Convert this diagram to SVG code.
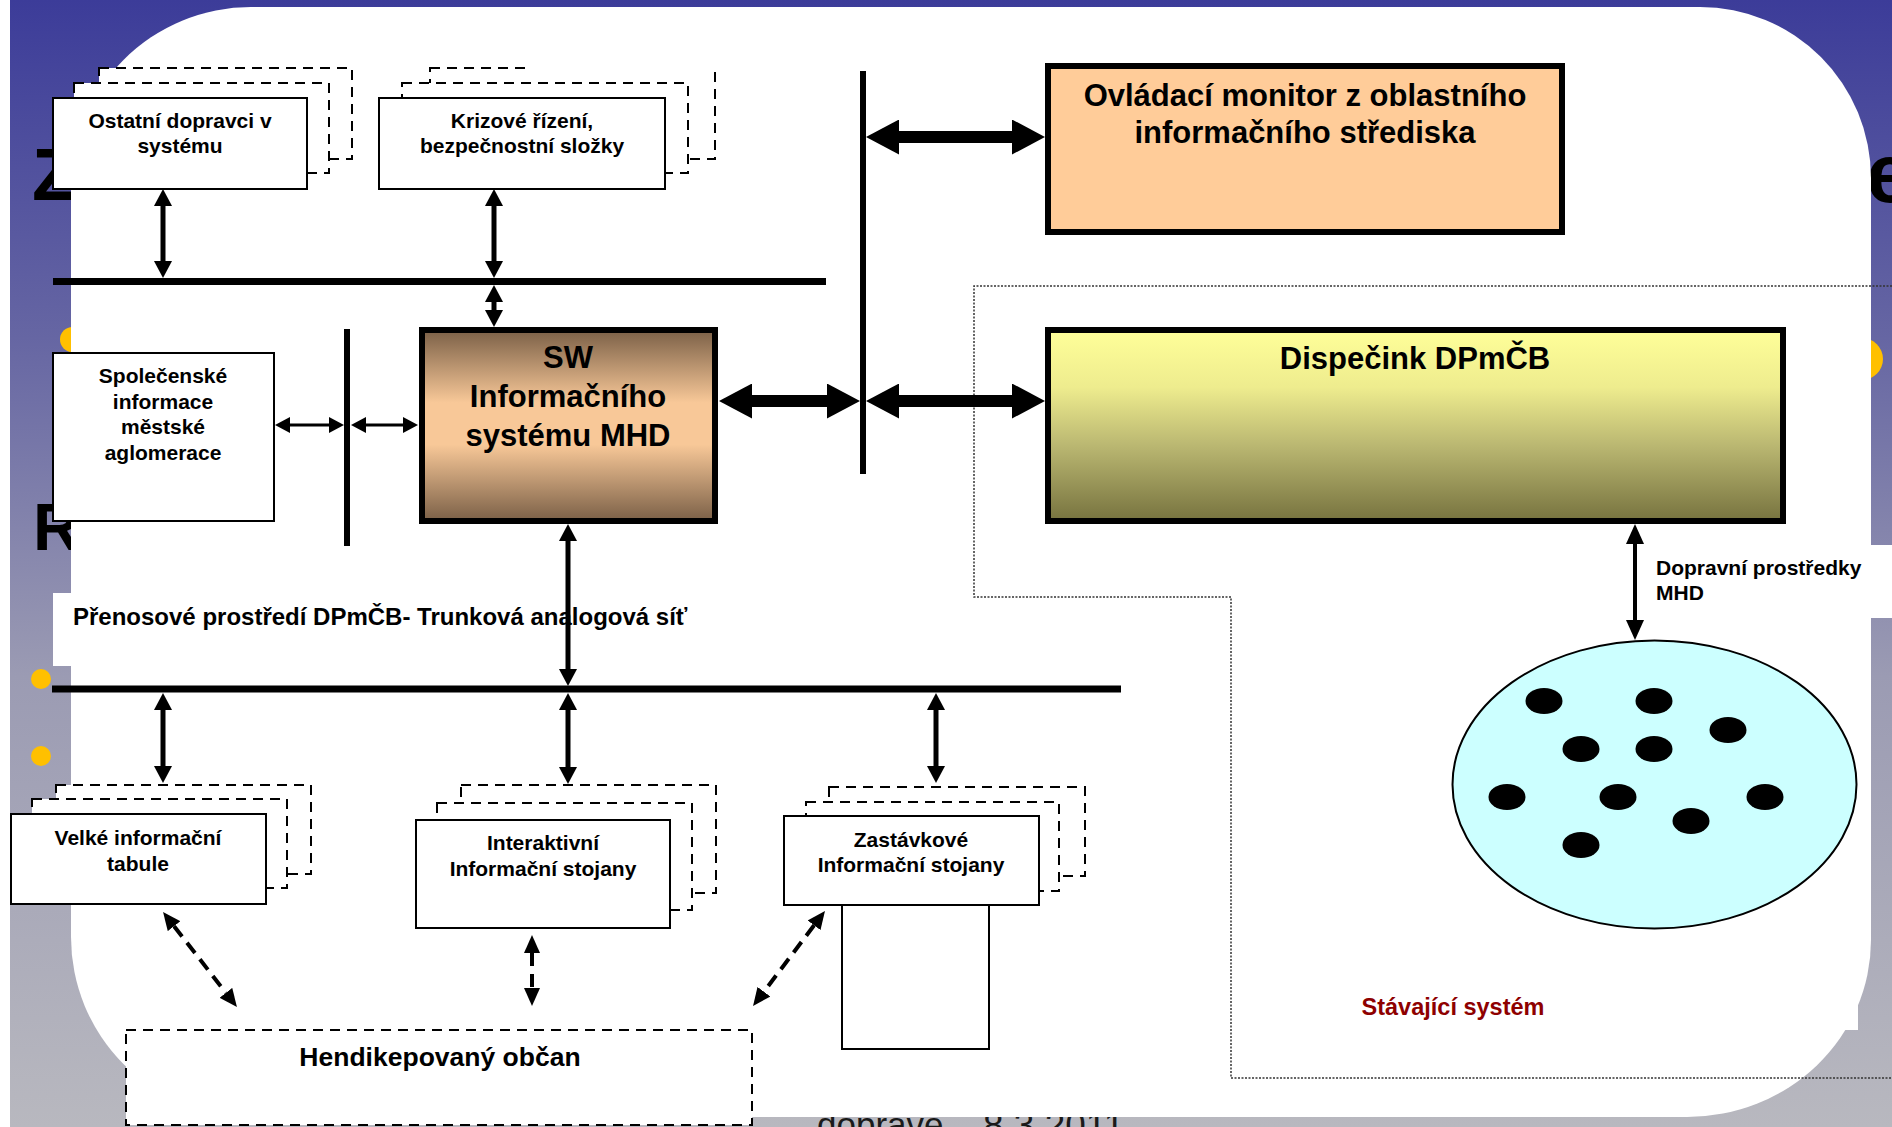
<svg xmlns="http://www.w3.org/2000/svg" width="1892" height="1127" viewBox="0 0 1892 1127">
<style>
.t{font-family:"Liberation Sans",Arial,sans-serif;font-weight:bold;fill:#000}
.s21{font-size:21px;text-anchor:middle}
.s31{font-size:31px;text-anchor:middle}
.red{font-family:"Liberation Sans",Arial,sans-serif;font-weight:bold;font-size:23.5px;fill:#8E0000;text-anchor:middle}
.box{fill:#fff;stroke:#000;stroke-width:2}
.shadow{fill:#fff;stroke:#000;stroke-width:2;stroke-dasharray:10 7}
.thick{stroke:#000;stroke-width:6}
.bus{stroke:#000;stroke-width:7}
.arr{stroke:#000;stroke-width:5;fill:none;marker-start:url(#ah);marker-end:url(#ah)}
.dash{stroke:#000;stroke-width:4;fill:none;stroke-dasharray:13 8;marker-start:url(#dh);marker-end:url(#dh)}
.bg{font-family:"Liberation Sans",Arial,sans-serif;font-weight:bold;fill:#000}
.bullet{fill:#FFC000}
</style>
<defs>
<linearGradient id="slide" x1="0" y1="0" x2="0" y2="1">
<stop offset="0" stop-color="#3C3C99"/>
<stop offset="0.3" stop-color="#6666A3"/>
<stop offset="0.6" stop-color="#9B9BB3"/>
<stop offset="1" stop-color="#B8B8BF"/>
</linearGradient>
<linearGradient id="swg" x1="0" y1="0" x2="0" y2="1">
<stop offset="0" stop-color="#7B6047"/>
<stop offset="0.38" stop-color="#F8C898"/>
<stop offset="0.6" stop-color="#F8C898"/>
<stop offset="1" stop-color="#7B6047"/>
</linearGradient>
<linearGradient id="dpg" x1="0" y1="0" x2="0" y2="1">
<stop offset="0" stop-color="#FFFF99"/>
<stop offset="0.3" stop-color="#EEEC8E"/>
<stop offset="0.6" stop-color="#BBB872"/>
<stop offset="1" stop-color="#77733F"/>
</linearGradient>
<marker id="ah" viewBox="0 0 17 18" refX="0" refY="9" markerWidth="17" markerHeight="18" markerUnits="userSpaceOnUse" orient="auto-start-reverse"><path d="M0,0 L17,9 L0,18 Z" fill="#000"/></marker>
<marker id="ahm" viewBox="0 0 20 18" refX="0" refY="9" markerWidth="20" markerHeight="18" markerUnits="userSpaceOnUse" orient="auto-start-reverse"><path d="M0,0 L20,9 L0,18 Z" fill="#000"/></marker>
<marker id="ahs" viewBox="0 0 15 16" refX="0" refY="8" markerWidth="15" markerHeight="16" markerUnits="userSpaceOnUse" orient="auto-start-reverse"><path d="M0,0 L15,8 L0,16 Z" fill="#000"/></marker>
<marker id="big" viewBox="0 0 33 35" refX="0" refY="17.5" markerWidth="33" markerHeight="35" markerUnits="userSpaceOnUse" orient="auto-start-reverse"><path d="M0,0 L33,17.5 L0,35 Z" fill="#000"/></marker>
<marker id="dh" viewBox="0 0 18 16" refX="0" refY="8" markerWidth="18" markerHeight="16" markerUnits="userSpaceOnUse" orient="auto-start-reverse"><path d="M0,0 L18,8 L0,16 Z" fill="#000"/></marker>
</defs>

<g id="slide-background">
<rect x="0" y="0" width="1892" height="1127" fill="#fff"/>
<rect x="10" y="0" width="1882" height="1127" fill="url(#slide)"/>
<text class="bg" x="32" y="200" font-size="74">Z</text>
<text class="bg" x="33" y="550" font-size="66">R</text>
<text class="bg" x="1866" y="202" font-size="84">e</text>
<circle class="bullet" cx="72.6" cy="339.5" r="12.6"/>
<circle class="bullet" cx="41" cy="679" r="10"/>
<circle class="bullet" cx="41" cy="756" r="10"/>
<circle class="bullet" cx="1862" cy="359" r="21"/>
<text x="817" y="1137" font-family="Liberation Sans, Arial, sans-serif" font-size="35" fill="#1a1a1a">dopravě</text>
<text x="983" y="1138" font-family="Liberation Sans, Arial, sans-serif" font-size="37" fill="#1a1a1a">8.3.2011</text>
</g>

<g id="canvas">
<path d="M251,7 H1700 A171,171 0 0 1 1871,178 V940 A184,177 0 0 1 1687,1117 H251 A180,180 0 0 1 71,937 V187 A180,180 0 0 1 251,7 Z" fill="#fff"/>
<rect x="1300" y="975" width="558" height="55" fill="#fff"/>
</g>

<g id="label-novy-system">
<rect x="531" y="22" width="189" height="48" fill="#fff"/>
<text class="red" x="624" y="55">Nový systém</text>
</g>

<g id="node-ostatni">
<rect class="shadow" x="99" y="68" width="253" height="91"/>
<rect class="shadow" x="74" y="83" width="255" height="90"/>
<rect class="box" x="53" y="98" width="254" height="91"/>
<text class="t s21" x="180" y="128">Ostatní dopravci v</text>
<text class="t s21" x="180" y="153">systému</text>
</g>

<g id="node-krizove">
<rect class="shadow" x="430" y="68" width="285" height="91"/>
<rect x="531" y="22" width="182" height="47" fill="#fff"/>
<rect class="shadow" x="402" y="83" width="286" height="90"/>
<rect class="box" x="379" y="98" width="286" height="91"/>
<text class="t s21" x="522" y="128">Krizové řízení,</text>
<text class="t s21" x="522" y="153">bezpečnostní složky</text>
</g>

<g id="node-spolecenske">
<rect class="box" x="53" y="353" width="221" height="168"/>
<text class="t s21" x="163" y="383">Společenské</text>
<text class="t s21" x="163" y="408.5">informace</text>
<text class="t s21" x="163" y="434">městské</text>
<text class="t s21" x="163" y="459.5">aglomerace</text>
</g>

<g id="node-sw">
<rect x="422" y="330" width="293" height="191" fill="url(#swg)" stroke="#000" stroke-width="6"/>
<text class="t s31" x="568" y="368">SW</text>
<text class="t s31" x="568" y="407">Informačního</text>
<text class="t s31" x="568" y="446">systému MHD</text>
</g>

<g id="node-ovladaci">
<rect x="1048" y="66" width="514" height="166" fill="#FFCC99" stroke="#000" stroke-width="6"/>
<text class="t s31" x="1305" y="106">Ovládací monitor z oblastního</text>
<text class="t s31" x="1305" y="143">informačního střediska</text>
</g>

<g id="node-dispecink">
<rect x="1048" y="330" width="735" height="191" fill="url(#dpg)" stroke="#000" stroke-width="6"/>
<text class="t s31" x="1415" y="369">Dispečink DPmČB</text>
</g>

<g id="label-prenosove">
<rect x="53" y="593" width="707" height="73" fill="#fff"/>
<text class="t" x="73" y="625" font-size="24">Přenosové prostředí DPmČB- Trunková analogová síť</text>
</g>

<g id="label-dopravni">
<rect x="1650" y="545" width="242" height="73" fill="#fff"/>
<text class="t" x="1656" y="575" font-size="21">Dopravní prostředky</text>
<text class="t" x="1656" y="600" font-size="21">MHD</text>
</g>

<g id="node-vozidla">
<ellipse cx="1654.5" cy="784.5" rx="202" ry="144" fill="#CCFFFF" stroke="#000" stroke-width="2"/>
<g fill="#000">
<ellipse cx="1544" cy="701" rx="18.5" ry="13"/>
<ellipse cx="1654" cy="701" rx="18.5" ry="13"/>
<ellipse cx="1728" cy="730" rx="18.5" ry="13"/>
<ellipse cx="1581" cy="749" rx="18.5" ry="13"/>
<ellipse cx="1654" cy="749" rx="18.5" ry="13"/>
<ellipse cx="1507" cy="797" rx="18.5" ry="13"/>
<ellipse cx="1618" cy="797" rx="18.5" ry="13"/>
<ellipse cx="1765" cy="797" rx="18.5" ry="13"/>
<ellipse cx="1691" cy="821" rx="18.5" ry="13"/>
<ellipse cx="1581" cy="845" rx="18.5" ry="13"/>
</g>
</g>

<g id="node-velke">
<rect class="shadow" x="56" y="785" width="255" height="89"/>
<rect class="shadow" x="32" y="799" width="255" height="89"/>
<rect class="box" x="11" y="814" width="255" height="90"/>
<text class="t s21" x="138" y="845">Velké informační</text>
<text class="t s21" x="138" y="871">tabule</text>
</g>

<g id="node-interaktivni">
<rect class="shadow" x="461" y="785" width="255" height="108"/>
<rect class="shadow" x="437" y="803" width="255" height="107"/>
<rect class="box" x="416" y="820" width="254" height="108"/>
<text class="t s21" x="543" y="850">Interaktivní</text>
<text class="t s21" x="543" y="876">Informační stojany</text>
</g>

<g id="node-zastavkove">
<rect class="shadow" x="829" y="787" width="256" height="89"/>
<rect class="shadow" x="806" y="802" width="253" height="89"/>
<rect class="box" x="784" y="816" width="255" height="89"/>
<rect class="box" x="842" y="905" width="147" height="144"/>
<text class="t s21" x="911" y="847">Zastávkové</text>
<text class="t s21" x="911" y="872">Informační stojany</text>
</g>

<g id="node-hendikepovany">
<rect class="shadow" x="126" y="1030" width="626" height="95"/>
<text class="t" x="440" y="1066" font-size="26.5" text-anchor="middle">Hendikepovaný občan</text>
</g>

<g id="region-stavajici">
<path d="M1892,286 H974 V597 H1231 V1078 H1892" fill="none" stroke="#333" stroke-width="1.5" stroke-dasharray="2 1.5"/>
<text class="red" x="1453" y="1015">Stávající systém</text>
</g>

<g id="connectors">
<line class="bus" x1="53" y1="281.5" x2="826" y2="281.5"/>
<line class="bus" x1="52" y1="689" x2="1121" y2="689"/>
<line class="thick" x1="347" y1="329" x2="347" y2="546"/>
<line class="thick" x1="863" y1="71" x2="863" y2="474"/>
<line class="arr" x1="163" y1="206" x2="163" y2="261"/>
<line class="arr" x1="494" y1="206" x2="494" y2="261"/>
<line class="arr" x1="494" y1="302" x2="494" y2="310"/>
<line class="arr" x1="568" y1="541" x2="568" y2="669"/>
<line class="arr" x1="163" y1="710" x2="163" y2="766"/>
<line class="arr" x1="568" y1="710" x2="568" y2="767"/>
<line class="arr" x1="936" y1="710" x2="936" y2="766"/>
<line x1="290" y1="425" x2="329" y2="425" stroke="#000" stroke-width="3" marker-start="url(#ahs)" marker-end="url(#ahs)"/>
<line x1="366" y1="425" x2="403" y2="425" stroke="#000" stroke-width="3" marker-start="url(#ahs)" marker-end="url(#ahs)"/>
<line x1="752" y1="401" x2="827" y2="401" stroke="#000" stroke-width="12" marker-start="url(#big)" marker-end="url(#big)"/>
<line x1="899" y1="401" x2="1012" y2="401" stroke="#000" stroke-width="12" marker-start="url(#big)" marker-end="url(#big)"/>
<line x1="899" y1="137" x2="1012" y2="137" stroke="#000" stroke-width="12" marker-start="url(#big)" marker-end="url(#big)"/>
<line x1="1635" y1="544" x2="1635" y2="620" stroke="#000" stroke-width="4" marker-start="url(#ahm)" marker-end="url(#ahm)"/>
<line class="dash" x1="174.1" y1="926.2" x2="225.9" y2="992.8"/>
<line class="dash" x1="532" y1="953" x2="532" y2="988"/>
<line class="dash" x1="814.1" y1="925.3" x2="763.9" y2="991.7"/>
</g>
</svg>
